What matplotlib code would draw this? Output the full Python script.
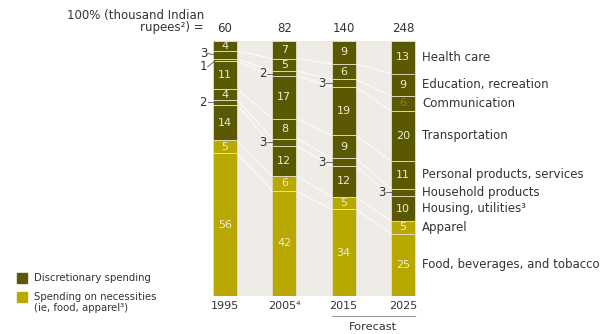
import matplotlib
matplotlib.use('Agg')
import matplotlib.pyplot as plt
import matplotlib.transforms as mtransforms
from matplotlib.patches import Rectangle

# Share of household consumption by category, bottom to top
years = ['1995', '2005⁴', '2015', '2025']
totals = [60, 82, 140, 248]
categories = ['Food, beverages, and tobacco', 'Apparel', 'Housing, utilities³',
              'Household products', 'Personal products, services', 'Transportation',
              'Communication', 'Education, recreation', 'Health care']
necessity = [True, True, False, False, False, False, False, False, False]
shares = {
    '1995': [56, 5, 14, 2, 4, 11, 1, 3, 4],
    '2005⁴': [42, 6, 12, 3, 8, 17, 2, 5, 7],
    '2015': [34, 5, 12, 3, 9, 19, 3, 6, 9],
    '2025': [25, 5, 10, 3, 11, 20, 6, 9, 13],
}

DARK = '#5a5800'
LIGHT = '#b8a800'
BEIGE = '#efebe6'
TXT = '#333333'
INNER = '#f0ecd2'
FS = 8.5

W, H = 601, 334


def fx(px):
    return px / W


def fy(py):
    return 1 - py / H


fig = plt.figure(figsize=(W / 100, H / 100), dpi=100)
fig.patch.set_facecolor('white')

step = 59.33
ax = fig.add_axes([fx(225 - step / 2), fy(296), 4 * step / W, 255 / H])
ax.set_xlim(-0.5, 3.5)
ax.set_ylim(0, 100)
ax.axis('off')

bw = 24 / step
half = bw / 2
ax.axvspan(-half, 3 + half, ymin=0, ymax=1, color=BEIGE, zorder=0, lw=0)

# cumulative boundaries per bar, scaled so every bar fills the same height
bounds = []
for i, yr in enumerate(years):
    vals = shares[yr]
    tot = sum(vals)
    b = 0
    edges = []
    for j, v in enumerate(vals):
        h = v / tot * 100
        ax.bar(i, h, bottom=b, width=bw, color=LIGHT if necessity[j] else DARK,
               edgecolor='#e6e2c8', linewidth=0.6, zorder=3)
        yc = b + h / 2
        if v >= 4:
            col = INNER
            if yr == '2025' and categories[j] == 'Communication':
                col = '#86843a'
            ax.text(i, yc, str(v), ha='center', va='center', fontsize=8,
                    color=col, zorder=4)
        else:
            # small shares get a label with a leader to the left of the bar
            ly = yc
            if yr == '1995' and categories[j] == 'Communication':
                ly = yc - 2.6
            elif yr == '1995' and categories[j] == 'Education, recreation':
                ly = yc + 0.6
            ax.text(i - half - 0.1, ly, str(v), ha='right', va='center',
                    fontsize=FS, color=TXT, zorder=4)
            ax.plot([i - half - 0.09, i - half + 0.05], [ly, yc], color='#555555',
                    lw=0.6, zorder=5)
        b += h
        edges.append(b)
    bounds.append(edges)

# faint connectors between matching segment boundaries
for i in range(len(years) - 1):
    for j in range(len(categories) - 1):
        ax.plot([i + half, i + 1 - half], [bounds[i][j], bounds[i + 1][j]],
                color='white', lw=0.8, alpha=0.8, zorder=1)

# category names next to the last bar
last = shares['2025']
tot = sum(last)
b = 0
for j, v in enumerate(last):
    h = v / tot * 100
    ax.text(3 + half + 7 / step, b + h / 2, categories[j], ha='left', va='center',
            fontsize=FS, color=TXT)
    b += h

trans = mtransforms.blended_transform_factory(ax.transData, fig.transFigure)
for i, (yr, t) in enumerate(zip(years, totals)):
    ax.text(i, fy(28), str(t), transform=trans, ha='center', va='center',
            fontsize=FS, color=TXT)
    ax.text(i, fy(306), yr, transform=trans, ha='center', va='center',
            fontsize=8, color=TXT)

fig.text(fx(204), fy(16), '100% (thousand Indian', ha='right', va='center',
         fontsize=FS, color=TXT)
fig.text(fx(204), fy(28), 'rupees²) =', ha='right', va='center',
         fontsize=FS, color=TXT)
fig.text(fx(308), fy(-3), 'Share of total household consumption, (%)', ha='right',
         va='baseline', fontsize=FS, color=TXT)

# forecast bracket
ax.plot([2 - half, 3 + half], [fy(316), fy(316)], transform=trans, color='#999999',
        lw=0.8, clip_on=False)
ax.text(2.5, fy(327), 'Forecast', transform=trans, ha='center', va='center',
        fontsize=8.2, color=TXT)

# legend
for py, col, label in [(278, DARK, 'Discretionary spending'),
                       (302.5, LIGHT, 'Spending on necessities\n(ie, food, apparel³)')]:
    box_y = 278 if col == DARK else 297
    fig.add_artist(Rectangle((fx(17), fy(box_y + 5)), 10 / W, 10 / H, color=col,
                             transform=fig.transFigure))
    fig.text(fx(34), fy(py), label, ha='left', va='center', linespacing=1.1,
             fontsize=7.3, color=TXT)

fig.savefig('out.png', dpi=100)
